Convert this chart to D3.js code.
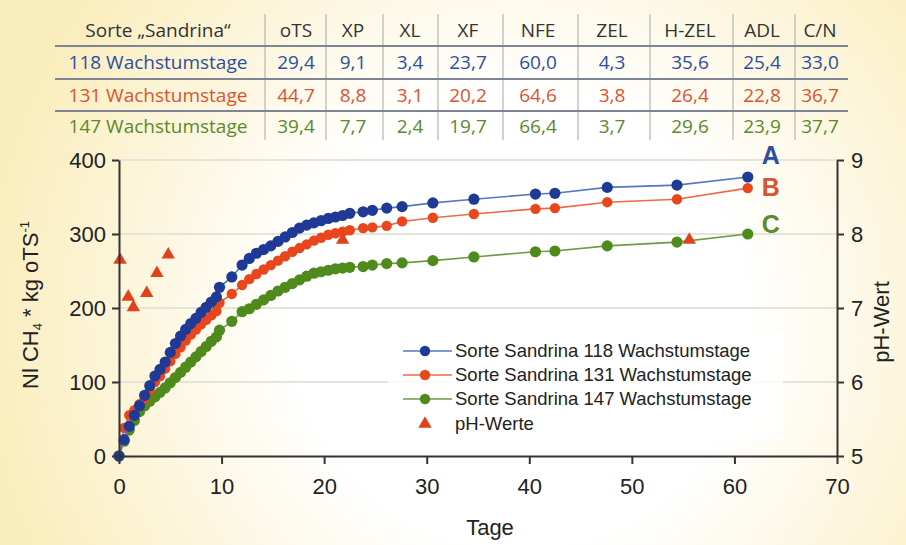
<!DOCTYPE html>
<html><head><meta charset="utf-8">
<script src="https://cdn.jsdelivr.net/npm/d3@7"></script>
<style>html,body{margin:0;padding:0;background:#fff}svg{display:block}</style>
</head><body>
<svg id="c" width="906" height="545"></svg>
<script>
// ---------- data ----------
const tableHeader = ["Sorte \u201ESandrina\u201C","oTS","XP","XL","XF","NFE","ZEL","H-ZEL","ADL","C/N"];
const row118 = ["118 Wachstumstage","29,4","9,1","3,4","23,7","60,0","4,3","35,6","25,4","33,0"];
const row131 = ["131 Wachstumstage","44,7","8,8","3,1","20,2","64,6","3,8","26,4","22,8","36,7"];
const row147 = ["147 Wachstumstage","39,4","7,7","2,4","19,7","66,4","3,7","29,6","23,9","37,7"];

const days = [0,0.5,1,1.5,2,2.5,3,3.5,4,4.5,5,5.5,6,6.5,7,7.5,8,8.5,9,9.5,9.8,11,12,12.7,13.4,14.1,14.8,15.5,16.2,16.9,17.6,18.3,19,19.7,20.4,21.1,21.8,22.5,23.8,24.7,26.1,27.6,30.6,34.6,40.6,42.5,47.6,54.4,61.3];
const s118 = [0,22,40,55,68,82,95,108,117,127,140,152,162,171,179,186,194,201,208,215,228,242,258,267,274,279,284,290,296,302,308,312,315,318,321,323,325,328,330,332,335,337,342,347,354,355,363,366,377];
const s131 = [0,38,55,62,70,78,88,100,108,118,128,138,147,156,164,171,178,184,190,196,207,219,231,239,246,252,258,264,270,276,281,286,291,295,299,301,303,305,308,309,311,317,322,327,334,335,343,347,362];
const s147 = [0,20,35,48,60,68,74,80,86,92,99,106,113,120,127,134,141,148,155,161,170,182,195,199,205,211,217,223,228,233,238,243,247,249,251,253,254,255,256,258,260,261,264,269,276,277,284,289,300];

const phDays = [0.1,0.9,1.4,2.7,3.7,4.8,21.8,55.6];
const phVals = [7.65,7.15,7.01,7.2,7.47,7.72,7.92,7.92];

const seriesNames = ["Sorte Sandrina 118 Wachstumstage","Sorte Sandrina 131 Wachstumstage","Sorte Sandrina 147 Wachstumstage","pH-Werte"];
const endLabels = ["A","B","C"];
const xTicks = [0,10,20,30,40,50,60,70];
const yTicks = [0,100,200,300,400];
const phTicks = [5,6,7,8,9];

// ---------- styling ----------
const colBlueDot="#1f3a94", colBlueLine="#5577c4", colBlueText="#2e4ea0";
const colRedDot="#e8461c", colRedLine="#ec6a45", colRedText="#d8552f";
const colGreenDot="#4f8a1c", colGreenLine="#6f9a45", colGreenText="#5a8a2c";

const svg = d3.select("#c");
const defs = svg.append("defs");
const rg = defs.append("radialGradient").attr("id","bg").attr("gradientUnits","userSpaceOnUse")
  .attr("cx",520).attr("cy",320).attr("r",540);
rg.append("stop").attr("offset","0%").attr("stop-color","#ffffff");
rg.append("stop").attr("offset","42%").attr("stop-color","#ffffff");
rg.append("stop").attr("offset","100%").attr("stop-color","#faedbc");
svg.append("rect").attr("width",906).attr("height",545).attr("fill","url(#bg)");

const font = "'Liberation Sans', Arial, sans-serif";
const tfont = "'Open Sans', 'DejaVu Sans', sans-serif";

// ---------- table ----------
const colX = [158,296,353,410,468,538,612,690,762,820];
const sepX = [265,326,383,438,503,578,650,733,795];
const rowY = [30,62,95,126];
const tbl = svg.append("g");
tbl.selectAll("line.sep").data(sepX).join("line")
  .attr("x1",d=>d).attr("x2",d=>d).attr("y1",14).attr("y2",140)
  .attr("stroke","#b4b4b4").attr("stroke-width",1.2);
tbl.selectAll("line.hr").data([46,79,111]).join("line")
  .attr("x1",55).attr("x2",848).attr("y1",d=>d).attr("y2",d=>d)
  .attr("stroke","#7d8494").attr("stroke-width",2);
const rows = [tableHeader,row118,row131,row147];
const rowCols = ["#333333",colBlueText,colRedText,colGreenText];
rows.forEach((r,i)=>{
  tbl.selectAll("text.r"+i).data(r).join("text")
    .attr("x",(d,j)=>colX[j]).attr("y",rowY[i]).attr("dy","0.35em")
    .attr("text-anchor","middle").attr("font-family",tfont).attr("font-size",19)
    .attr("fill",rowCols[i]).text(d=>d);
});

// ---------- chart ----------
const x = d3.scaleLinear().domain([0,70]).range([119,837]);
const y = d3.scaleLinear().domain([0,400]).range([456,160]);
const yph = d3.scaleLinear().domain([5,9]).range([456,160]);

// grid
svg.append("g").selectAll("line").data(yTicks.slice(1)).join("line")
  .attr("x1",x(0)).attr("x2",x(70)).attr("y1",d=>y(d)).attr("y2",d=>y(d))
  .attr("stroke","#e4e4da").attr("stroke-width",2);

// legend box
const lg = svg.append("g");
lg.append("rect").attr("x",388).attr("y",333).attr("width",395).attr("height",106)
  .attr("fill","#ffffff").attr("opacity",0.85);

const series = [
  {v:s118, dot:colBlueDot, line:colBlueLine, r:5.6},
  {v:s131, dot:colRedDot, line:colRedLine, r:5.2},
  {v:s147, dot:colGreenDot, line:colGreenLine, r:5.6}
];
const line = d3.line().x(d=>x(d[0])).y(d=>y(d[1]));
[2,1,0].forEach(k=>{
  const s = series[k];
  const pts = days.map((d,i)=>[d,s.v[i]]);
  const g = svg.append("g");
  g.append("path").datum(pts).attr("d",line).attr("fill","none")
    .attr("stroke",s.line).attr("stroke-width",1.6);
  g.selectAll("circle").data(pts).join("circle")
    .attr("cx",d=>x(d[0])).attr("cy",d=>y(d[1])).attr("r",s.r).attr("fill",s.dot);
});

// pH triangles
const tri = d3.symbol().type(d3.symbolTriangle).size(78);
svg.append("g").selectAll("path").data(phDays.map((d,i)=>[d,phVals[i]])).join("path")
  .attr("d",tri).attr("transform",d=>`translate(${x(d[0])},${yph(d[1])})`)
  .attr("fill","#e0431c");

// axes
const axStroke="#333";
const xAxis = svg.append("g").attr("transform",`translate(0,${y(0)})`)
  .call(d3.axisBottom(x).tickValues(xTicks).tickSize(8).tickSizeOuter(0).tickPadding(14));
const yAxis = svg.append("g").attr("transform",`translate(${x(0)},0)`)
  .call(d3.axisLeft(y).tickValues(yTicks).tickSize(7).tickSizeOuter(0).tickPadding(6));
const rAxis = svg.append("g").attr("transform",`translate(${x(70)},0)`)
  .call(d3.axisRight(yph).tickValues(phTicks).tickFormat(d3.format("d")).tickSize(7).tickSizeOuter(0).tickPadding(7));
[xAxis,yAxis,rAxis].forEach(a=>{
  a.select(".domain").attr("stroke",axStroke).attr("stroke-width",2);
  a.selectAll(".tick line").attr("stroke",axStroke).attr("stroke-width",2);
  a.selectAll(".tick text").attr("font-family",font).attr("font-size",22).attr("fill","#222");
});

// end labels
const endY = [s118[s118.length-1], s131[s131.length-1], s147[s147.length-1]];
const endCols = [colBlueText,colRedText,colGreenText];
const endOff = [-22,-1,-10];
svg.append("g").selectAll("text").data(endLabels).join("text")
  .attr("x",x(days[days.length-1])+14).attr("y",(d,i)=>y(endY[i])+endOff[i]).attr("dy","0.35em")
  .attr("font-family",font).attr("font-weight","bold").attr("font-size",25)
  .attr("fill",(d,i)=>endCols[i]).text(d=>d);

// legend entries
const lgY = [351,375,399,424];
series.forEach((s,i)=>{
  lg.append("line").attr("x1",403).attr("x2",452).attr("y1",lgY[i]).attr("y2",lgY[i])
    .attr("stroke",s.line).attr("stroke-width",1.6);
  lg.append("circle").attr("cx",425).attr("cy",lgY[i]).attr("r",5.2).attr("fill",s.dot);
});
lg.append("path").attr("d",tri).attr("transform",`translate(425,${lgY[3]})`).attr("fill","#e0431c");
lg.selectAll("text").data(seriesNames).join("text")
  .attr("x",455).attr("y",(d,i)=>lgY[i]).attr("dy","0.35em")
  .attr("font-family",font).attr("font-size",18.5).attr("fill","#222").text(d=>d);

// axis titles
svg.append("text").attr("x",490).attr("y",535).attr("text-anchor","middle")
  .attr("font-family",font).attr("font-size",22).attr("fill","#222").text("Tage");
const lt = svg.append("text").attr("transform","translate(38,305) rotate(-90)")
  .attr("text-anchor","middle").attr("font-family",font).attr("font-size",22).attr("fill","#222");
lt.append("tspan").text("Nl CH");
lt.append("tspan").attr("font-size",13).attr("dy",4).text("4");
lt.append("tspan").attr("dy",-4).text(" * kg oTS");
lt.append("tspan").attr("font-size",13).attr("dy",-9).text("-1");
svg.append("text").attr("transform","translate(889,322) rotate(-90)")
  .attr("text-anchor","middle").attr("font-family",font).attr("font-size",22).attr("fill","#222").text("pH-Wert");
</script>
</body></html>
